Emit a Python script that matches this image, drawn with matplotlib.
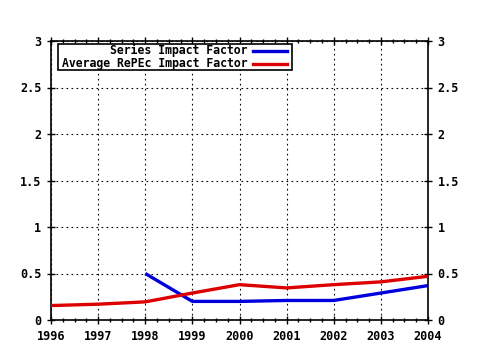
import matplotlib
matplotlib.use("Agg")
import matplotlib.pyplot as plt
from matplotlib.lines import Line2D
from matplotlib.ticker import MultipleLocator

years = [1996, 1997, 1998, 1999, 2000, 2001, 2002, 2003, 2004]
series_years = [1998, 1999, 2000, 2001, 2002, 2003, 2004]
series_if = [0.50, 0.20, 0.20, 0.21, 0.21, 0.29, 0.37]
repec_if = [0.155, 0.17, 0.195, 0.29, 0.38, 0.345, 0.38, 0.41, 0.47]
yticks = [0, 0.5, 1, 1.5, 2, 2.5, 3]
ytick_labels = ["0", "0.5", "1", "1.5", "2", "2.5", "3"]
labels = ["Series Impact Factor", "Average RePEc Impact Factor"]
colors = ["#0000dd", "#dd0000"]

W, H = 480, 350
fig = plt.figure(figsize=(W / 100, H / 100), dpi=100)
L, R, T, B = 51, 428, 41, 320
ax = fig.add_axes([L / W, 1 - B / H, (R - L) / W, (B - T) / H])

font = dict(family="DejaVu Sans Mono", weight="bold")

ax.plot(series_years, series_if, color=colors[0], lw=2.4, solid_capstyle="butt", zorder=3)
ax.plot(years, repec_if, color=colors[1], lw=2.4, solid_capstyle="butt", zorder=3)

ax.set_xlim(1996, 2004)
ax.set_ylim(0, 3)
ax.set_xticks(years)
ax.set_xticklabels([str(y) for y in years], fontsize=8.5, **font)
ax.set_yticks(yticks)
ax.set_yticklabels(ytick_labels, fontsize=8.5, **font)
ax.xaxis.set_minor_locator(MultipleLocator(0.25))
ax.tick_params(axis="both", which="major", direction="inout", length=6, width=1,
               top=True, right=True, labelright=True, pad=4)
ax.tick_params(axis="x", which="minor", direction="inout", length=3, width=1, top=True)
ax.grid(True, which="major", color="black", linestyle=(0, (1.5, 3)), linewidth=0.8)
for s in ax.spines.values():
    s.set_linewidth(1.2)

# manual legend (gnuplot style: text right-aligned, sample on the right)
def px(x, y):
    return ((x - L) / (R - L), (B - y) / (B - T))

box = plt.Rectangle(px(58, 70), (292 - 58) / (R - L), (70 - 44) / (B - T),
                    transform=ax.transAxes, fill=True, facecolor="white",
                    edgecolor="black", lw=1.2, zorder=4)
ax.add_patch(box)
rows_y = [50.5, 63.5]
for lab, c, yy in zip(labels, colors, rows_y):
    ax.text(*px(248, yy), lab, transform=ax.transAxes, ha="right", va="center",
            fontsize=8.3, zorder=5, **font)
    ax.add_line(Line2D([px(253, yy)[0], px(287, yy)[0]], [px(253, yy)[1]] * 2,
                       transform=ax.transAxes, color=c, lw=2.4, zorder=5))

fig.savefig("out.png", dpi=100)
